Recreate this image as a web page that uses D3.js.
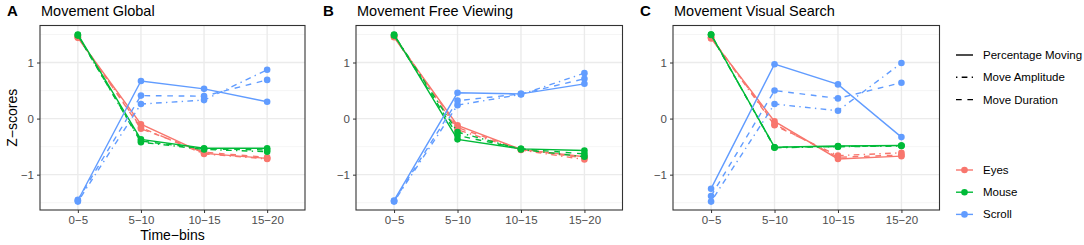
<!DOCTYPE html>
<html>
<head>
<meta charset="utf-8">
<script src="https://cdn.jsdelivr.net/npm/d3@7"></script>
<style>
  body { margin: 0; background: #fff; }
  svg text { font-family: "Liberation Sans", Arial, sans-serif; }
</style>
</head>
<body>
<svg width="1084" height="245"></svg>
<script>
// categories
const bins = ["0-5", "5-10", "10-15", "15-20"];
const yTicks = [-1, 0, 1];
const yMinor = [-1.5, -0.5, 0.5, 1.5];
const devices = ["Eyes", "Mouse", "Scroll"];
const measures = ["Percentage Moving", "Move Amplitude", "Move Duration"];

// values, per panel, per device: [PM, MA, MD]
const globalEyes   = [[1.44, -0.10, -0.62, -0.71], [1.45, -0.16, -0.63, -0.72], [1.46, -0.18, -0.60, -0.69]];
const globalMouse  = [[1.50, -0.37, -0.53, -0.53], [1.49, -0.42, -0.55, -0.59], [1.48, -0.40, -0.54, -0.56]];
const globalScroll = [[-1.46, 0.67, 0.53, 0.30], [-1.48, 0.26, 0.33, 0.87], [-1.45, 0.41, 0.40, 0.69]];

const freeEyes   = [[1.45, -0.12, -0.55, -0.68], [1.46, -0.20, -0.56, -0.73], [1.47, -0.16, -0.55, -0.70]];
const freeMouse  = [[1.50, -0.37, -0.54, -0.57], [1.49, -0.24, -0.55, -0.68], [1.48, -0.30, -0.54, -0.63]];
const freeScroll = [[-1.46, 0.46, 0.44, 0.62], [-1.48, 0.24, 0.43, 0.81], [-1.47, 0.32, 0.44, 0.71]];

const searchEyes   = [[1.43, -0.05, -0.72, -0.67], [1.44, -0.12, -0.66, -0.61], [1.45, -0.10, -0.69, -0.65]];
const searchMouse  = [[1.50, -0.51, -0.49, -0.48], [1.50, -0.52, -0.50, -0.49], [1.49, -0.51, -0.50, -0.48]];
const searchScroll = [[-1.25, 0.97, 0.61, -0.33], [-1.48, 0.26, 0.14, 0.99], [-1.38, 0.50, 0.36, 0.64]];

const panels = [
  { tag: "A", title: "Movement Global", left: 40, right: 305, series: [globalEyes, globalMouse, globalScroll] },
  { tag: "B", title: "Movement Free Viewing", left: 356, right: 622.5, series: [freeEyes, freeMouse, freeScroll] },
  { tag: "C", title: "Movement Visual Search", left: 673, right: 939.5, series: [searchEyes, searchMouse, searchScroll] }
];

const colors = ["#F8766D", "#00BA38", "#619CFF"];
const dashes = [null, "1.4,4.3,5.7,4.3", "5.7,5.7"];

const svg = d3.select("svg");
const plotTop = 25.5, plotBottom = 210;

const y = d3.scaleLinear().domain([-1.63, 1.66]).range([plotBottom, plotTop]);

panels.forEach(p => {
  const x = d3.scalePoint().domain(bins).range([p.left, p.right]).padding(0.6);
  const g = svg.append("g");

  // grid
  g.selectAll(".minor").data(yMinor).enter().append("line")
    .attr("x1", p.left).attr("x2", p.right)
    .attr("y1", d => y(d)).attr("y2", d => y(d))
    .attr("stroke", "#F0F0F0").attr("stroke-width", 0.7);
  g.selectAll(".major").data(yTicks).enter().append("line")
    .attr("x1", p.left).attr("x2", p.right)
    .attr("y1", d => y(d)).attr("y2", d => y(d))
    .attr("stroke", "#EBEBEB").attr("stroke-width", 1.4);
  g.selectAll(".vmajor").data(bins).enter().append("line")
    .attr("x1", d => x(d)).attr("x2", d => x(d))
    .attr("y1", plotTop).attr("y2", plotBottom)
    .attr("stroke", "#EBEBEB").attr("stroke-width", 1.4);

  // lines and points
  const line = d3.line().x((d, i) => x(bins[i])).y(d => y(d));
  p.series.forEach((dev, di) => {
    dev.forEach((vals, mi) => {
      g.append("path")
        .attr("d", line(vals))
        .attr("fill", "none")
        .attr("stroke", colors[di])
        .attr("stroke-width", 1.4)
        .attr("stroke-dasharray", dashes[mi]);
      g.selectAll(null).data(vals).enter().append("circle")
        .attr("cx", (d, i) => x(bins[i]))
        .attr("cy", d => y(d))
        .attr("r", 3.3)
        .attr("fill", colors[di]);
    });
  });

  // border
  g.append("rect")
    .attr("x", p.left).attr("y", plotTop)
    .attr("width", p.right - p.left).attr("height", plotBottom - plotTop)
    .attr("fill", "none").attr("stroke", "#333").attr("stroke-width", 1.1);

  // axes
  const ax = g.append("g").attr("transform", `translate(0,${plotBottom})`)
    .call(d3.axisBottom(x).tickSize(3).tickPadding(3));
  const ay = g.append("g").attr("transform", `translate(${p.left},0)`)
    .call(d3.axisLeft(y).tickValues(yTicks).tickSize(3).tickPadding(3).tickFormat(d => d < 0 ? "\u2212" + Math.abs(d) : d));
  [ax, ay].forEach(a => {
    a.select(".domain").remove();
    a.selectAll(".tick line").attr("stroke", "#333");
    a.selectAll(".tick text").attr("fill", "#4D4D4D").style("font-size", "11.5px");
  });
  ax.selectAll(".tick text").text(d => d.replace("-", "\u2212"));

  // titles
  svg.append("text").attr("x", p.left - 33).attr("y", 16)
    .style("font-size", "15px").style("font-weight", "bold").text(p.tag);
  svg.append("text").attr("x", p.left + 1).attr("y", 16)
    .style("font-size", "14.5px").attr("fill", "#000").text(p.title);
});

// axis titles
svg.append("text").attr("x", 172.5).attr("y", 240)
  .attr("text-anchor", "middle").style("font-size", "14px").text("Time\u2212bins");
svg.append("text")
  .attr("transform", `translate(17,${(plotTop + plotBottom) / 2}) rotate(-90)`)
  .attr("text-anchor", "middle").style("font-size", "14px").text("Z\u2212scores");

// legends
const lg1 = svg.append("g");
measures.forEach((m, i) => {
  const yy = 55 + i * 22.3;
  lg1.append("line").attr("x1", 956).attr("x2", 973).attr("y1", yy).attr("y2", yy)
    .attr("stroke", "#000").attr("stroke-width", 1.4).attr("stroke-dasharray", dashes[i]);
  lg1.append("text").attr("x", 983).attr("y", yy + 4).style("font-size", "11.5px").text(m);
});
const lg2 = svg.append("g");
devices.forEach((dname, i) => {
  const yy = 170 + i * 22.2;
  lg2.append("line").attr("x1", 956).attr("x2", 973).attr("y1", yy).attr("y2", yy)
    .attr("stroke", colors[i]).attr("stroke-width", 1.4);
  lg2.append("circle").attr("cx", 964.5).attr("cy", yy).attr("r", 3.3).attr("fill", colors[i]);
  lg2.append("text").attr("x", 983).attr("y", yy + 4).style("font-size", "11.5px").text(dname);
});
</script>
</body>
</html>
